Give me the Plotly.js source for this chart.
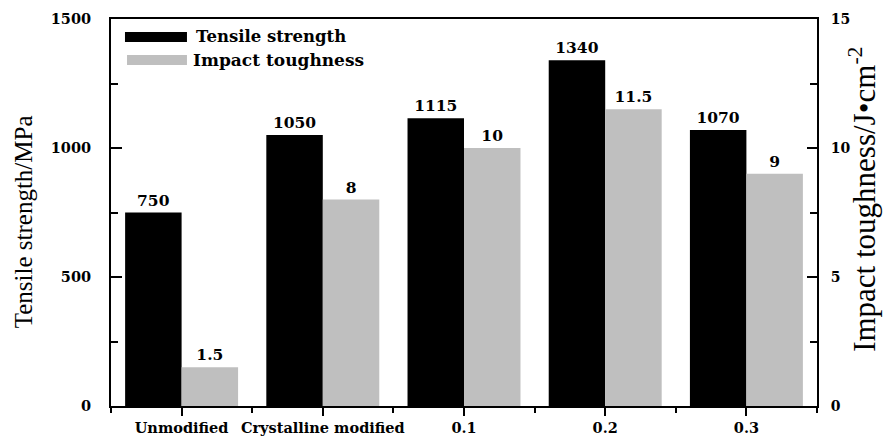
<!DOCTYPE html>
<html>
<head>
<meta charset="utf-8">
<script src="https://cdn.plot.ly/plotly-3.0.1.min.js"></script>
<style>html,body{margin:0;padding:0;background:#fff;}#chart{width:886px;height:438px;}</style>
</head>
<body>
<div id="chart"></div>
<script>
var categories = ["Unmodified", "Crystalline modified", "0.1", "0.2", "0.3"];
var tensileStrength = [750, 1050, 1115, 1340, 1070];
var impactToughness = [1.5, 8, 10, 11.5, 9];
var seriesNames = ["Tensile strength", "Impact toughness"];
var leftTicks = [0, 500, 1000, 1500];
var rightTicks = [0, 5, 10, 15];

var xIdx = categories.map(function (c, i) { return i; });

var traces = [
  {
    type: "bar", name: seriesNames[0], x: xIdx, y: tensileStrength,
    width: 0.4, offset: -0.4, marker: {color: "#000000", line: {width: 0}},
    text: tensileStrength.map(String), textposition: "outside",
    textfont: {family: "DejaVu Serif", size: 15.5, color: "#000", weight: "bold"},
    cliponaxis: false, yaxis: "y", showlegend: false
  },
  {
    type: "bar", name: seriesNames[1], x: xIdx, y: impactToughness,
    width: 0.4, offset: 0, marker: {color: "#bfbfbf", line: {width: 0}},
    text: impactToughness.map(String), textposition: "outside",
    textfont: {family: "DejaVu Serif", size: 15.5, color: "#000", weight: "bold"},
    cliponaxis: false, yaxis: "y2", showlegend: false
  }
];

var layout = {
  width: 886, height: 438,
  margin: {l: 111, r: 69, t: 19, b: 32},
  paper_bgcolor: "#fff", plot_bgcolor: "#fff",
  showlegend: false,
  xaxis: {
    range: [-0.5, 4.5], tickmode: "array", tickvals: xIdx, ticktext: categories,
    showline: true, linecolor: "#000", linewidth: 2, mirror: true,
    ticks: "outside", ticklen: 8, tickwidth: 2, tickcolor: "#000",
    minor: {dtick: 0.5, tick0: 0, ticks: "outside", ticklen: 5, tickwidth: 2, tickcolor: "#000"},
    showgrid: false, zeroline: false,
    tickfont: {family: "DejaVu Serif", size: 14.5, color: "#000", weight: "bold"}
  },
  yaxis: {
    range: [0, 1500], tickmode: "array", tickvals: leftTicks,
    showline: true, linecolor: "#000", linewidth: 2,
    ticks: "inside", ticklen: 11, tickwidth: 2, tickcolor: "#000",
    minor: {dtick: 250, ticks: "inside", ticklen: 7, tickwidth: 2, tickcolor: "#000"},
    showgrid: false, zeroline: false, ticklabelstandoff: 15,
    tickfont: {family: "DejaVu Serif", size: 14.5, color: "#000", weight: "bold"}
  },
  yaxis2: {
    range: [0, 15], overlaying: "y", side: "right", tickmode: "array", tickvals: rightTicks,
    showline: true, linecolor: "#000", linewidth: 2,
    ticks: "inside", ticklen: 10, tickwidth: 2, tickcolor: "#000",
    minor: {dtick: 2.5, ticks: "inside", ticklen: 7, tickwidth: 2, tickcolor: "#000"},
    showgrid: false, zeroline: false, ticklabelstandoff: 9,
    tickfont: {family: "DejaVu Serif", size: 14, color: "#000", weight: "bold"}
  },
  shapes: [
    {type: "rect", xref: "paper", yref: "paper", x0: 0.0198, x1: 0.1076, y0: 0.9406, y1: 0.9664,
     fillcolor: "#000000", line: {width: 0}},
    {type: "rect", xref: "paper", yref: "paper", x0: 0.0227, x1: 0.1076, y0: 0.881, y1: 0.907,
     fillcolor: "#bfbfbf", line: {width: 0}}
  ],
  annotations: [
    {text: seriesNames[0], xref: "paper", yref: "paper", x: 0.1176, y: 0.9535, xanchor: "left", yanchor: "middle",
     showarrow: false, font: {family: "DejaVu Serif", size: 16.5, color: "#000", weight: "bold"}},
    {text: seriesNames[1], xref: "paper", yref: "paper", x: 0.1134, y: 0.894, xanchor: "left", yanchor: "middle",
     showarrow: false, font: {family: "DejaVu Serif", size: 17, color: "#000", weight: "bold"}},
    {text: "Tensile strength/MPa", xref: "paper", yref: "paper", x: -0.1245, y: 0.475, textangle: -90,
     xanchor: "center", yanchor: "middle", showarrow: false,
     font: {family: "Liberation Serif", size: 25, color: "#000"}},
    {text: "Impact toughness/J•cm<sup>-2</sup>", xref: "paper", yref: "paper", x: 1.065, y: 0.535, textangle: -90,
     xanchor: "center", yanchor: "middle", showarrow: false,
     font: {family: "Liberation Serif", size: 31, color: "#000"}}
  ]
};

Plotly.newPlot("chart", traces, layout, {displayModeBar: false, staticPlot: true});
</script>
</body>
</html>
